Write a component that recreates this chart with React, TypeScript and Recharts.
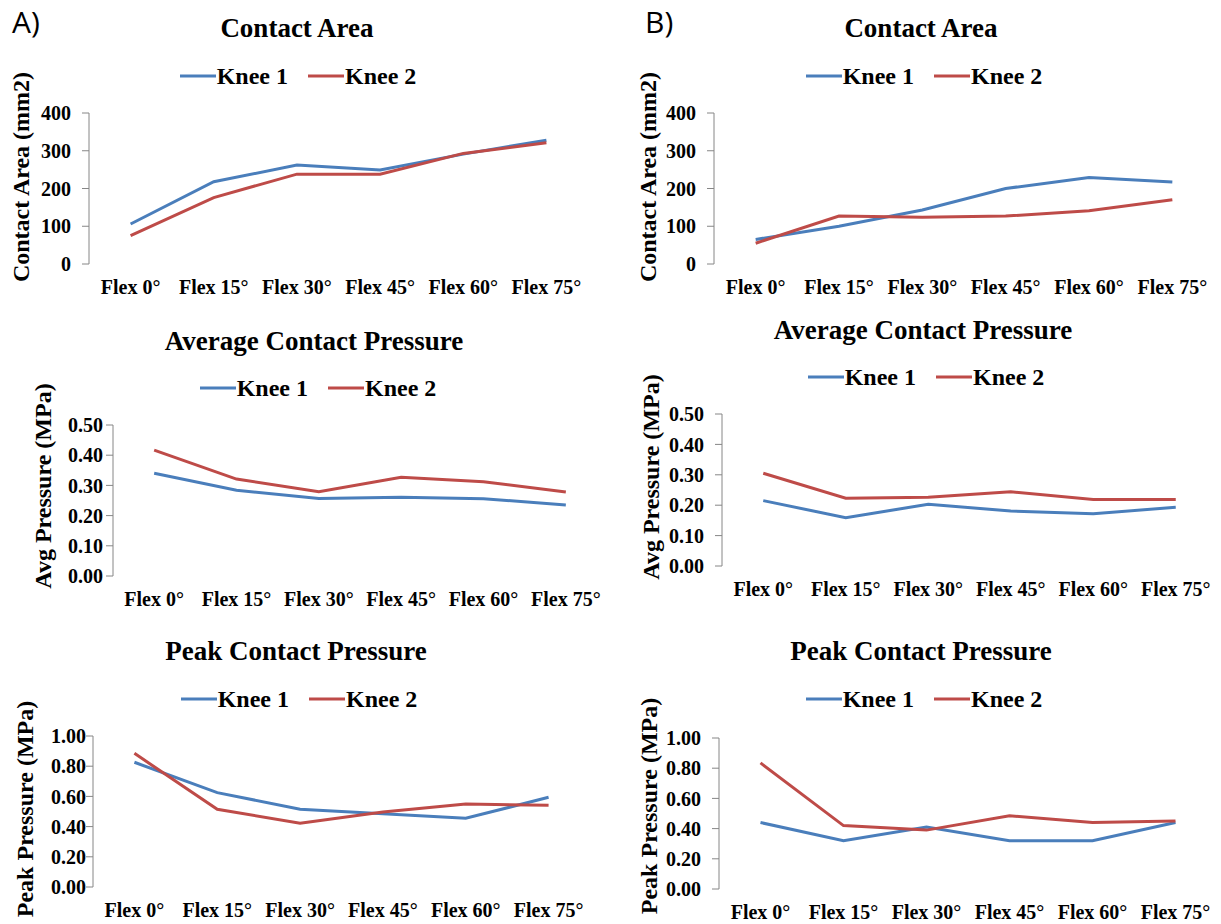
import React from 'react'
import { Legend, Line, LineChart, XAxis, YAxis } from 'recharts'

// categories along the x axis
const categories = ['Flex 0°', 'Flex 15°', 'Flex 30°', 'Flex 45°', 'Flex 60°', 'Flex 75°']
const seriesNames = ['Knee 1', 'Knee 2']

// y axis ticks
const areaTicks = [0, 100, 200, 300, 400]
const avgTicks = [0, 0.1, 0.2, 0.3, 0.4, 0.5]
const peakTicks = [0, 0.2, 0.4, 0.6, 0.8, 1.0]

// A) contact area (mm2)
const areaA_knee1 = [106, 218, 262, 249, 291, 328]
const areaA_knee2 = [75, 176, 238, 238, 293, 321]
// A) average contact pressure (MPa)
const avgA_knee1 = [0.34, 0.284, 0.257, 0.261, 0.256, 0.235]
const avgA_knee2 = [0.417, 0.321, 0.279, 0.327, 0.312, 0.278]
// A) peak contact pressure (MPa)
const peakA_knee1 = [0.826, 0.625, 0.515, 0.485, 0.455, 0.594]
const peakA_knee2 = [0.885, 0.515, 0.422, 0.497, 0.55, 0.541]

// B) contact area (mm2)
const areaB_knee1 = [65, 100, 143, 200, 229, 217]
const areaB_knee2 = [55, 127, 124, 127, 141, 170]
// B) average contact pressure (MPa)
const avgB_knee1 = [0.215, 0.159, 0.203, 0.181, 0.172, 0.193]
const avgB_knee2 = [0.305, 0.223, 0.226, 0.244, 0.219, 0.219]
// B) peak contact pressure (MPa)
const peakB_knee1 = [0.44, 0.32, 0.41, 0.32, 0.32, 0.44]
const peakB_knee2 = [0.835, 0.42, 0.39, 0.485, 0.44, 0.45]

const BLUE = '#4a7ebb'
const RED = '#be4b48'
const AXIS = '#868686'
const SERIF = '"Liberation Serif", "Times New Roman", serif'
const Y_AXIS_W = 60
const X_LABEL_H = 30

// x positions: each category sits in the middle of its band, tick marks on the band edges
const boundaryTicks = [...categories.map((_, i) => i), categories.length]
const centerTicks = categories.map((_, i) => i + 0.5)

const buildRows = (k1: number[], k2: number[]) =>
  categories.map((c, i) => ({ x: i + 0.5, category: c, knee1: k1[i], knee2: k2[i] }))

interface PanelSpec {
  box: { left: number; top: number; width: number; height: number }
  plot: { left: number; right: number; top: number; bottom: number }
  title: string
  titleAt: [number, number]
  legendAt: [number, number]
  yLabel: string
  yLabelAt: [number, number]
  yTicks: number[]
  decimals: number
  tickMargin: number
  knee1: number[]
  knee2: number[]
}

const panels: PanelSpec[] = [
  {
    box: { left: 0, top: 0, width: 610, height: 310 },
    plot: { left: 89, right: 588, top: 113, bottom: 264 },
    title: 'Contact Area',
    titleAt: [297, 29],
    legendAt: [298, 76],
    yLabel: 'Contact Area (mm2)',
    yLabelAt: [20, 177],
    yTicks: areaTicks,
    decimals: 0,
    tickMargin: 11,
    knee1: areaA_knee1,
    knee2: areaA_knee2,
  },
  {
    box: { left: 0, top: 310, width: 610, height: 305 },
    plot: { left: 113, right: 607, top: 425, bottom: 576 },
    title: 'Average Contact Pressure',
    titleAt: [314, 342],
    legendAt: [318, 388],
    yLabel: 'Avg Pressure (MPa)',
    yLabelAt: [42, 486],
    yTicks: avgTicks,
    decimals: 2,
    tickMargin: 3,
    knee1: avgA_knee1,
    knee2: avgA_knee2,
  },
  {
    box: { left: 0, top: 615, width: 610, height: 309 },
    plot: { left: 93, right: 590, top: 736, bottom: 887 },
    title: 'Peak Contact Pressure',
    titleAt: [296, 652],
    legendAt: [299, 699],
    yLabel: 'Peak Pressure (MPa)',
    yLabelAt: [24, 809],
    yTicks: peakTicks,
    decimals: 2,
    tickMargin: 0,
    knee1: peakA_knee1,
    knee2: peakA_knee2,
  },
  {
    box: { left: 610, top: 0, width: 611, height: 310 },
    plot: { left: 714, right: 1214, top: 113, bottom: 264 },
    title: 'Contact Area',
    titleAt: [921, 29],
    legendAt: [924, 76],
    yLabel: 'Contact Area (mm2)',
    yLabelAt: [647, 177],
    yTicks: areaTicks,
    decimals: 0,
    tickMargin: 11,
    knee1: areaB_knee1,
    knee2: areaB_knee2,
  },
  {
    box: { left: 610, top: 310, width: 611, height: 305 },
    plot: { left: 722, right: 1217, top: 414, bottom: 566 },
    title: 'Average Contact Pressure',
    titleAt: [923, 331],
    legendAt: [926, 377],
    yLabel: 'Avg Pressure (MPa)',
    yLabelAt: [650, 477],
    yTicks: avgTicks,
    decimals: 2,
    tickMargin: 11,
    knee1: avgB_knee1,
    knee2: avgB_knee2,
  },
  {
    box: { left: 610, top: 615, width: 611, height: 309 },
    plot: { left: 719, right: 1217, top: 738, bottom: 889 },
    title: 'Peak Contact Pressure',
    titleAt: [921, 652],
    legendAt: [924, 699],
    yLabel: 'Peak Pressure (MPa)',
    yLabelAt: [648, 806],
    yTicks: peakTicks,
    decimals: 2,
    tickMargin: 11,
    knee1: peakB_knee1,
    knee2: peakB_knee2,
  },
]

const LegendRow = (props: any) => (
  <div
    style={{
      display: 'flex',
      justifyContent: 'center',
      alignItems: 'center',
      gap: 20,
      fontFamily: SERIF,
      fontWeight: 'bold',
      fontSize: 24,
      lineHeight: '24px',
      color: '#000',
    }}
  >
    {(props.payload ?? []).map((p: any) => (
      <div key={p.value} style={{ display: 'flex', alignItems: 'center' }}>
        <svg width={36} height={4} style={{ display: 'block' }}>
          <line x1={0} y1={2} x2={36} y2={2} stroke={p.color} strokeWidth={3} />
        </svg>
        <span style={{ marginLeft: 1 }}>{p.value}</span>
      </div>
    ))}
  </div>
)

const tickStyle = { fill: '#000', fontSize: 20, fontWeight: 'bold', fontFamily: SERIF }

const Panel: React.FC<{ spec: PanelSpec }> = ({ spec }) => {
  const { box, plot } = spec
  const margin = {
    top: plot.top - box.top,
    left: plot.left - box.left - Y_AXIS_W,
    right: box.left + box.width - plot.right,
    bottom: box.top + box.height - plot.bottom - X_LABEL_H,
  }
  const rows = buildRows(spec.knee1, spec.knee2)
  const yMax = spec.yTicks[spec.yTicks.length - 1]
  // y label position relative to the centre of the y axis box
  const labelDx = spec.yLabelAt[0] - (plot.left - Y_AXIS_W / 2)
  const labelDy = spec.yLabelAt[1] - (plot.top + plot.bottom) / 2

  return (
    <div style={{ position: 'absolute', left: box.left, top: box.top, width: box.width, height: box.height }}>
      <div
        style={{
          position: 'absolute',
          left: spec.titleAt[0] - box.left - 250,
          width: 500,
          top: spec.titleAt[1] - box.top - 14,
          textAlign: 'center',
          fontFamily: SERIF,
          fontWeight: 'bold',
          fontSize: 27,
          lineHeight: '27px',
          color: '#000',
          whiteSpace: 'nowrap',
        }}
      >
        {spec.title}
      </div>
      <LineChart width={box.width} height={box.height} data={rows} margin={margin}>
        <XAxis
          xAxisId="bounds"
          type="number"
          dataKey="x"
          domain={[0, categories.length]}
          ticks={boundaryTicks}
          interval={0}
          tick={false}
          tickSize={5}
          height={0}
          stroke={AXIS}
        />
        <XAxis
          xAxisId="labels"
          type="number"
          dataKey="x"
          domain={[0, categories.length]}
          ticks={centerTicks}
          interval={0}
          tickFormatter={(v: number) => categories[Math.floor(v)]}
          axisLine={false}
          tickLine={false}
          tickSize={0}
          tickMargin={16}
          height={X_LABEL_H}
          tick={tickStyle}
        />
        <YAxis
          type="number"
          domain={[0, yMax]}
          ticks={spec.yTicks}
          interval={0}
          width={Y_AXIS_W}
          tickSize={7}
          tickMargin={spec.tickMargin}
          stroke={AXIS}
          tick={tickStyle}
          tickFormatter={(v: number) => v.toFixed(spec.decimals)}
          label={{
            value: spec.yLabel,
            angle: -90,
            position: 'center',
            dx: labelDx,
            dy: labelDy,
            fill: '#000',
            fontSize: 24,
            fontWeight: 'bold',
            fontFamily: SERIF,
            style: { fill: '#000', fontSize: 24, fontWeight: 'bold', fontFamily: SERIF },
          }}
        />
        <Legend
          verticalAlign="middle"
          align="center"
          content={<LegendRow />}
          wrapperStyle={{
            top: spec.legendAt[1] - box.top - 12,
            left: spec.legendAt[0] - box.left - 160,
            width: 320,
          }}
        />
        <Line
          xAxisId="labels"
          type="linear"
          dataKey="knee1"
          name={seriesNames[0]}
          stroke={BLUE}
          strokeWidth={3}
          dot={false}
          isAnimationActive={false}
        />
        <Line
          xAxisId="labels"
          type="linear"
          dataKey="knee2"
          name={seriesNames[1]}
          stroke={RED}
          strokeWidth={3}
          dot={false}
          isAnimationActive={false}
        />
      </LineChart>
    </div>
  )
}

const partLabel = {
  position: 'absolute' as const,
  top: 7,
  fontFamily: '"Open Sans", "Noto Sans", sans-serif',
  fontSize: 30,
  lineHeight: '30px',
  color: '#000',
}

export default function App() {
  return (
    <div style={{ position: 'absolute', left: 0, top: 0, width: 1221, height: 924, background: '#fff' }}>
      <div style={{ ...partLabel, left: 12 }}>A)</div>
      <div style={{ ...partLabel, left: 645 }}>B)</div>
      {panels.map((p, i) => (
        <Panel key={i} spec={p} />
      ))}
    </div>
  )
}
